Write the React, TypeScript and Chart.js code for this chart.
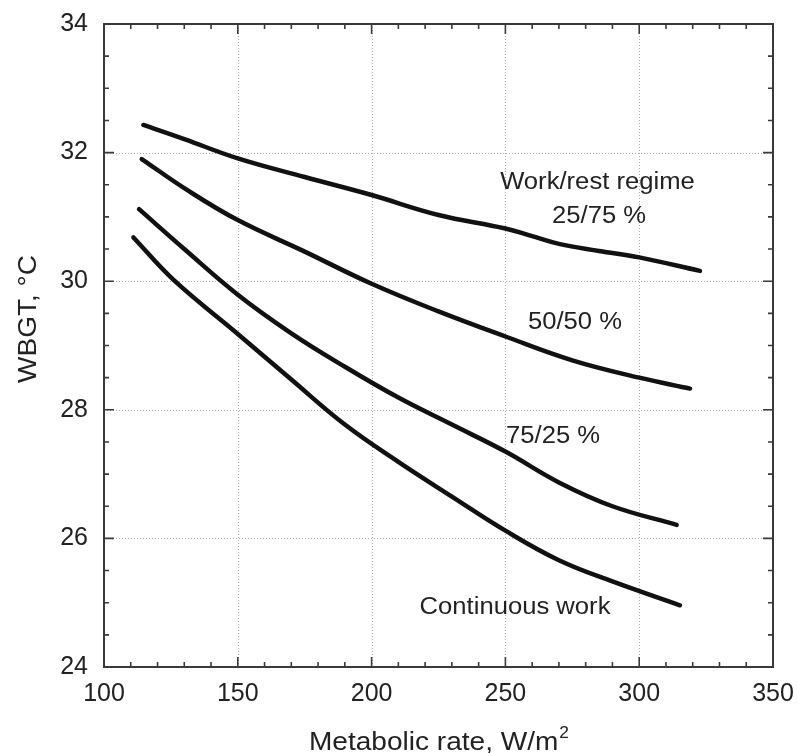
import { useEffect, useRef } from "react";
import { Chart, registerables } from "chart.js";

Chart.register(...registerables);

const W = 797;
const H = 753;

// Metabolic rate (W/m²) and WBGT limit (°C) for each work/rest regime
const rate2575 = [114.7, 130, 150, 175, 200, 225, 250, 260, 270, 285, 300, 322.7];
const wbgt2575 = [32.43, 32.21, 31.91, 31.62, 31.34, 31.03, 30.82, 30.7, 30.58, 30.47, 30.37, 30.16];

const rate5050 = [114.1, 131, 150, 175, 200, 225, 250, 275, 300, 319];
const wbgt5050 = [31.9, 31.42, 30.95, 30.46, 29.96, 29.53, 29.14, 28.77, 28.5, 28.33];

const rate7525 = [113.1, 130, 150, 170, 190, 210, 230, 250, 270, 290, 314];
const wbgt7525 = [31.12, 30.5, 29.79, 29.19, 28.67, 28.19, 27.77, 27.35, 26.87, 26.5, 26.21];

const rateCont = [111, 126, 150, 170, 190, 210, 230, 250, 270, 290, 315.2];
const wbgtCont = [30.68, 30.02, 29.18, 28.47, 27.77, 27.19, 26.65, 26.12, 25.66, 25.33, 24.96];

const seriesNames = ["25/75 %", "50/50 %", "75/25 %", "Continuous work"];

// Axis ticks
const xTicks = [100, 150, 200, 250, 300, 350];
const yTicks = [24, 26, 28, 30, 32, 34];
const xMinorStep = 10;
const yMinorStep = 0.5;

const xTitle = "Metabolic rate, W/m";
const xTitleSup = "2";
const yTitle = "WBGT, °C";

// Curve labels: text, x (W/m²), baseline y (°C)
const noteText = ["Work/rest regime", "25/75 %", "50/50 %", "75/25 %", "Continuous work"];
const noteX = [284.4, 285.0, 276.0, 267.8, 253.6];
const noteY = [31.43, 30.91, 29.26, 27.49, 24.83];

const FONT = "'Liberation Sans', Arial, Helvetica, sans-serif";
const TEXT = "#222";
const STRETCH = 1.1;

function stretchedText(
  ctx: CanvasRenderingContext2D,
  text: string,
  x: number,
  y: number,
  size: number,
  align: CanvasTextAlign = "center"
) {
  ctx.save();
  ctx.font = `${size}px ${FONT}`;
  ctx.fillStyle = TEXT;
  ctx.textAlign = align;
  ctx.textBaseline = "alphabetic";
  ctx.translate(x, y);
  ctx.scale(STRETCH, 1);
  ctx.fillText(text, 0, 0);
  ctx.restore();
}

const framePlugin = {
  id: "frameAndNotes",
  beforeDatasetsDraw(chart: any) {
    const { ctx, chartArea: a, scales } = chart;
    const xs = scales.x;
    const ys = scales.y;
    ctx.save();
    ctx.strokeStyle = "#aaaaaa";
    ctx.lineWidth = 1;
    ctx.setLineDash([1, 2]);
    for (const v of xTicks.slice(1, -1)) {
      const px = Math.round(xs.getPixelForValue(v)) + 0.5;
      ctx.beginPath();
      ctx.moveTo(px, a.top);
      ctx.lineTo(px, a.bottom);
      ctx.stroke();
    }
    for (const v of yTicks.slice(1, -1)) {
      const py = Math.round(ys.getPixelForValue(v)) + 0.5;
      ctx.beginPath();
      ctx.moveTo(a.left, py);
      ctx.lineTo(a.right, py);
      ctx.stroke();
    }
    ctx.restore();
  },
  afterDatasetsDraw(chart: any) {
    const { ctx, chartArea: a, scales } = chart;
    const xs = scales.x;
    const ys = scales.y;
    ctx.save();
    ctx.strokeStyle = "#3a3a3a";
    ctx.lineWidth = 2;
    ctx.strokeRect(a.left, a.top, a.right - a.left, a.bottom - a.top);
    ctx.lineWidth = 1.6;
    const major = 10;
    const minor = 5;
    const xmin = xTicks[0];
    const xmax = xTicks[xTicks.length - 1];
    for (let v = xmin; v <= xmax + 1e-6; v += xMinorStep) {
      const len = Math.abs((v - xmin) % 50) < 1e-6 ? major : minor;
      const px = xs.getPixelForValue(v);
      ctx.beginPath();
      ctx.moveTo(px, a.bottom);
      ctx.lineTo(px, a.bottom - len);
      ctx.moveTo(px, a.top);
      ctx.lineTo(px, a.top + len);
      ctx.stroke();
    }
    const ymin = yTicks[0];
    const ymax = yTicks[yTicks.length - 1];
    for (let v = ymin; v <= ymax + 1e-6; v += yMinorStep) {
      const len = Math.abs((v - ymin) % 2) < 1e-6 ? major : minor;
      const py = ys.getPixelForValue(v);
      ctx.beginPath();
      ctx.moveTo(a.left, py);
      ctx.lineTo(a.left + len, py);
      ctx.moveTo(a.right, py);
      ctx.lineTo(a.right - len, py);
      ctx.stroke();
    }
    ctx.restore();

    // curve labels
    for (let i = 0; i < noteText.length; i++) {
      stretchedText(ctx, noteText[i], xs.getPixelForValue(noteX[i]), ys.getPixelForValue(noteY[i]), 23.3);
    }

    // axis titles
    const size = 25.5;
    ctx.save();
    ctx.font = `${size}px ${FONT}`;
    const mainW = ctx.measureText(xTitle).width * STRETCH;
    ctx.font = `${size * 0.62}px ${FONT}`;
    const supW = ctx.measureText(xTitleSup).width * STRETCH;
    ctx.restore();
    const cx = (a.left + a.right) / 2;
    const startX = cx - (mainW + supW) / 2;
    stretchedText(ctx, xTitle, startX, 750, size, "left");
    stretchedText(ctx, xTitleSup, startX + mainW + 1, 738, size * 0.62, "left");

    ctx.save();
    ctx.translate(36, 319);
    ctx.rotate(-Math.PI / 2);
    stretchedText(ctx, yTitle, 0, 0, size);
    ctx.restore();
  },
};

export default function App() {
  const ref = useRef<HTMLCanvasElement>(null);

  useEffect(() => {
    const make = (xs: number[], ys: number[], label: string) => ({
      label,
      data: xs.map((x, i) => ({ x, y: ys[i] })),
      borderColor: "#111",
      borderWidth: 4.5,
      pointRadius: 0,
      fill: false,
      tension: 0.4,
      borderCapStyle: "round" as const,
      borderJoinStyle: "round" as const,
    });
    const tickFont = { family: FONT, size: 25 };
    const chart = new Chart(ref.current!, {
      type: "line",
      data: {
        datasets: [
          make(rate2575, wbgt2575, seriesNames[0]),
          make(rate5050, wbgt5050, seriesNames[1]),
          make(rate7525, wbgt7525, seriesNames[2]),
          make(rateCont, wbgtCont, seriesNames[3]),
        ],
      },
      options: {
        responsive: false,
        animation: false,
        layout: { padding: { top: 24, right: 24, left: 0, bottom: 0 } },
        plugins: { legend: { display: false }, tooltip: { enabled: false } },
        scales: {
          x: {
            type: "linear",
            min: xTicks[0],
            max: xTicks[xTicks.length - 1],
            afterBuildTicks: (s: any) => {
              s.ticks = xTicks.map((v) => ({ value: v }));
            },
            afterFit: (s: any) => {
              s.height = 86;
            },
            grid: { display: false, drawTicks: true, tickLength: 12 },
            border: { display: false },
            ticks: { font: tickFont, color: TEXT, padding: 0, maxRotation: 0, autoSkip: false },
          },
          y: {
            type: "linear",
            min: yTicks[0],
            max: yTicks[yTicks.length - 1],
            afterBuildTicks: (s: any) => {
              s.ticks = yTicks.map((v) => ({ value: v }));
            },
            afterFit: (s: any) => {
              s.width = 104;
            },
            grid: { display: false, drawTicks: true, tickLength: 16 },
            border: { display: false },
            ticks: { font: tickFont, color: TEXT, padding: 0, autoSkip: false },
          },
        },
      },
      plugins: [framePlugin],
    });
    return () => chart.destroy();
  }, []);

  return (
    <div style={{ position: "fixed", left: 0, top: 0, width: W, height: H, background: "#fff" }}>
      <canvas ref={ref} width={W} height={H} style={{ display: "block" }} />
    </div>
  );
}
